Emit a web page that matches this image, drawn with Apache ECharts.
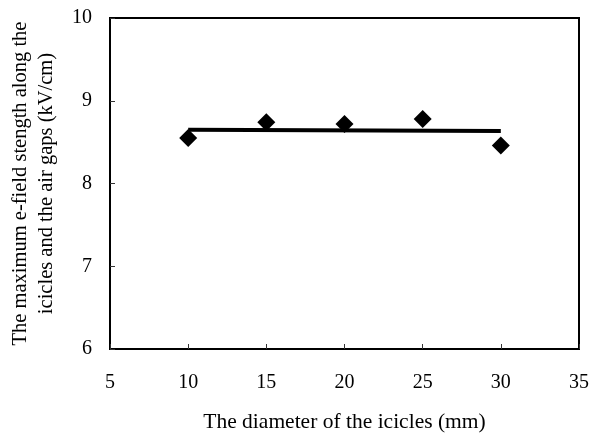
<!DOCTYPE html>
<html>
<head>
<meta charset="utf-8">
<script src="https://cdn.jsdelivr.net/npm/echarts@6/dist/echarts.min.js"></script>
<style>html,body{margin:0;padding:0;background:#fff;}#chart{width:590px;height:433px;}</style>
</head>
<body>
<div id="chart"></div>
<script>
var diameters = [10, 15, 20, 25, 30];
var eField = [8.55, 8.74, 8.72, 8.78, 8.46];
var trendX = [10, 30];
var trendY = [8.65, 8.635];
var xTicks = [5, 10, 15, 20, 25, 30, 35];
var yTicks = [6, 7, 8, 9, 10];

var font = 'Liberation Serif';
var chart = echarts.init(document.getElementById('chart'));
chart.setOption({
  backgroundColor: '#fff',
  animation: false,
  grid: {left: 110, right: 11, top: 18, bottom: 84, show: true, borderColor: '#000', borderWidth: 2, containLabel: false, outerBoundsMode: 'none'},
  xAxis: {
    type: 'value', min: xTicks[0], max: xTicks[xTicks.length-1], interval: 5,
    name: 'The diameter of the icicles (mm)', nameLocation: 'middle', nameGap: 62,
    nameTextStyle: {fontFamily: font, fontSize: 21.5, color: '#000'},
    axisLine: {show: true, lineStyle: {color: '#000', width: 2}},
    axisTick: {show: true, inside: true, length: 5, lineStyle: {color: '#333', width: 1}},
    axisLabel: {fontFamily: font, fontSize: 20, color: '#000', margin: 24},
    splitLine: {show: false}
  },
  yAxis: {
    type: 'value', min: yTicks[0], max: yTicks[yTicks.length-1], interval: 1,
    name: 'The maximum e-field stength along the\nicicles and the air gaps (kV/cm)', nameLocation: 'middle', nameGap: 50,
    nameTextStyle: {fontFamily: font, fontSize: 20.5, color: '#000', lineHeight: 26},
    axisLine: {show: true, lineStyle: {color: '#000', width: 2}},
    axisTick: {show: true, inside: true, length: 5, lineStyle: {color: '#333', width: 1}},
    axisLabel: {fontFamily: font, fontSize: 20, color: '#000', margin: 18},
    splitLine: {show: false}
  },
  series: [
    {
      type: 'line', data: trendX.map(function(x, i){return [x, trendY[i]];}),
      showSymbol: false, symbol: 'none', lineStyle: {color: '#000', width: 4}, z: 2
    },
    {
      type: 'scatter', data: diameters.map(function(x, i){return [x, eField[i]];}),
      symbol: 'diamond', symbolSize: 18, itemStyle: {color: '#000', opacity: 1}, z: 3
    }
  ]
});
</script>
</body>
</html>
